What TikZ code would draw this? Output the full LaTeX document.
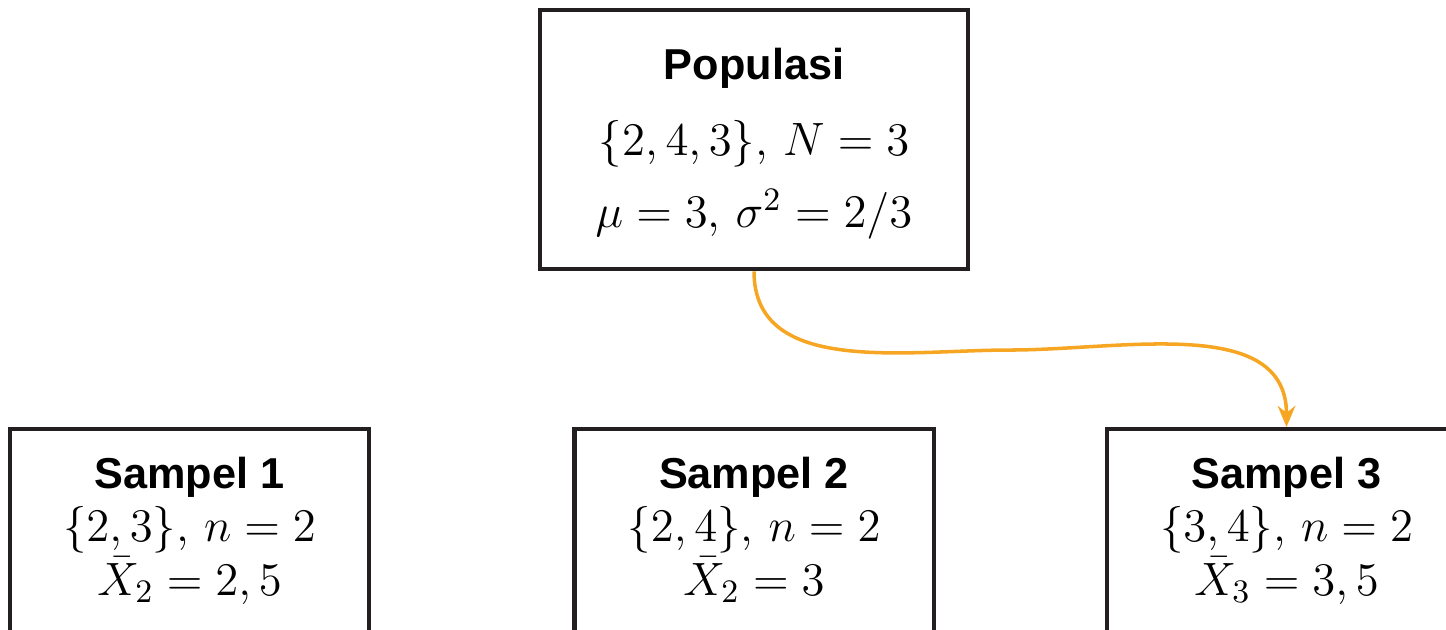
\RequirePackage{fix-cm}
\documentclass[tikz,border=0pt]{standalone}
\usepackage{fontspec}
\newfontfamily\headfont{Liberation Sans}
\usetikzlibrary{arrows.meta}
\definecolor{boxline}{RGB}{35,31,32}
\definecolor{arroworange}{RGB}{246,166,35}
\newcommand{\boxhead}[1]{{\fontsize{12.3}{15}\headfont\bfseries #1}}
\begin{document}
\begin{tikzpicture}[x=0.01cm, y=-0.01cm, >={Stealth[length=6pt, width=5pt]},
	every node/.style={font=\fontsize{13.3}{15}\selectfont},
	popbox/.style={draw=boxline, line width=1.2pt, anchor=north,
		minimum width=4.28cm, inner ysep=9.1pt, text depth=45pt},
	samplebox/.style={draw=boxline, line width=1.2pt, anchor=north,
		minimum width=3.59cm, inner ysep=6.5pt, text depth=2.6cm}]
	% 1. Batas gambar
	\useasboundingbox (0,0) rectangle (1446,629);
	
	% 2. Kotak populasi
	\node[popbox] (pop) at (754,8)
		{\begin{tabular}[t]{@{}c@{}}\boxhead{Populasi}\\[6.6pt]
		 $\{2,4,3\}$, $N=3$\\[5.2pt]
		 $\mu=3$, $\sigma^2=2/3$\end{tabular}};
	
	% 3. Kotak sampel
	\node[samplebox] (s1) at (189.5,427)
		{\begin{tabular}[t]{@{}c@{}}\boxhead{Sampel 1}\\
		 $\{2,3\}$, $n=2$\\ $\bar{X}_2=2,5$\end{tabular}};
	\node[samplebox] (s2) at (754,427)
		{\begin{tabular}[t]{@{}c@{}}\boxhead{Sampel 2}\\
		 $\{2,4\}$, $n=2$\\ $\bar{X}_2=3$\end{tabular}};
	\node[samplebox] (s3) at (1286.5,427)
		{\begin{tabular}[t]{@{}c@{}}\boxhead{Sampel 3}\\
		 $\{3,4\}$, $n=2$\\ $\bar{X}_3=3,5$\end{tabular}};
	
	% 4. Panah ke sampel 3
	\coordinate (mid) at (1010,350);
	\draw[->, arroworange, line width=1pt] (pop.south) to[out=-90, in=180] (mid)
		to[out=0, in=90] (s3.north);
\end{tikzpicture}
\end{document}
